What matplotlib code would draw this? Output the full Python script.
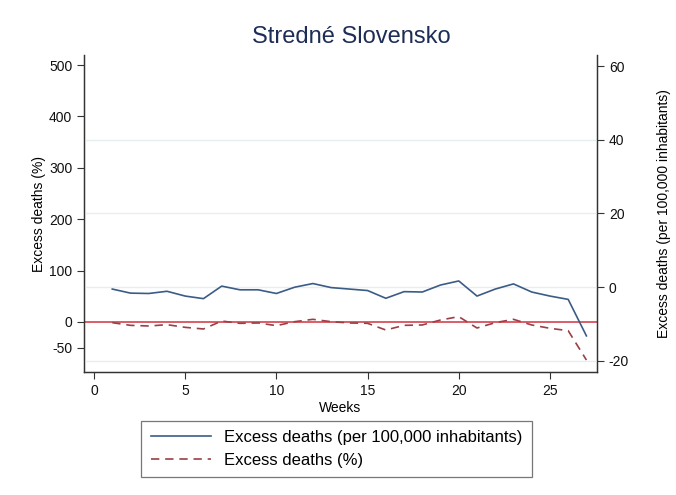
import matplotlib
matplotlib.use("Agg")
import matplotlib.pyplot as plt
from matplotlib.lines import Line2D

plt.rcParams['font.family'] = ['Liberation Sans', 'DejaVu Sans']
plt.rcParams['axes.unicode_minus'] = False

weeks = list(range(1, 28))
per100k = [-0.5, -1.6, -1.7, -1.1, -2.4, -3.1, 0.3, -0.7, -0.7, -1.7, 0.0, 1.0, -0.1, -0.5,
           -0.9, -3.0, -1.2, -1.3, 0.6, 1.7, -2.4, -0.5, 0.9, -1.3, -2.4, -3.3, -13.2]
pct = [-1.3, -6.5, -7.8, -5.2, -10.4, -13.6, 1.9, -2.6, -1.9, -7.1, 0.6, 5.2, 0.6, -1.9,
       -2.6, -15.6, -6.5, -5.8, 3.9, 10.4, -11.7, -1.3, 5.2, -5.8, -12.3, -16.9, -74.0]
x_ticks = [0, 5, 10, 15, 20, 25]
left_ticks = [-50, 0, 100, 200, 300, 400, 500]
right_ticks = [-20, 0, 20, 40, 60]
grid_vals = [-20, 0, 20, 40]

title = "Stredné Slovensko"
xlabel = "Weeks"
ylabel_left = "Excess deaths (%)"
ylabel_right = "Excess deaths (per 100,000 inhabitants)"
lab_blue = "Excess deaths (per 100,000 inhabitants)"
lab_red = "Excess deaths (%)"

W, H = 676, 495
fig = plt.figure(figsize=(W / 100, H / 100), dpi=100)
L, R, T, B = 84, 597, 55, 372
ax = fig.add_axes([L / W, 1 - B / H, (R - L) / W, (B - T) / H])
ax2 = ax.twinx()

blue = '#3b5c86'
maroon = '#9a3f45'
red0 = '#d9505c'
grid_c = '#e6eff0'

ax.set_xlim(-0.55, 27.58)
ax.set_ylim(-97.3, 519.5)
ax2.set_ylim(-23.0, 63.0)

for g in grid_vals:
    ax2.axhline(g, color=grid_c, lw=1.0, zorder=0)
ax.axhline(0, color=red0, lw=1.3, zorder=1)
ax.plot(weeks, pct, color=maroon, lw=1.2, ls=(0, (5, 3.5)), zorder=3)
ax2.plot(weeks, per100k, color=blue, lw=1.2, zorder=3)

ax.set_xticks(x_ticks)
ax.set_yticks(left_ticks)
ax2.set_yticks(right_ticks)
for a in (ax, ax2):
    a.spines['top'].set_visible(False)
    for s in a.spines.values():
        s.set_color('#333333')
        s.set_linewidth(0.9)
    a.tick_params(labelsize=10, length=5, width=0.8, color='#333333', labelcolor='#111111')

ax.set_xlabel(xlabel, fontsize=10, labelpad=2)
ax.set_ylabel(ylabel_left, fontsize=10, labelpad=2)
ax2.set_ylabel(ylabel_right, fontsize=10, labelpad=20)

fig.text(351 / W, 1 - 37 / H, title, ha='center', va='center', fontsize=17, color='#1e2d57')

handles = [Line2D([], [], color=blue, lw=1.2),
           Line2D([], [], color=maroon, lw=1.2, ls=(0, (5, 3.5)))]
leg = fig.legend(handles, [lab_blue, lab_red], loc='center',
                 bbox_to_anchor=(336.5 / W, 1 - 449 / H), fontsize=12,
                 frameon=True, fancybox=False, handlelength=3.6, handletextpad=0.8,
                 borderpad=0.55, labelspacing=0.45)
leg.get_frame().set_edgecolor('#555555')
leg.get_frame().set_linewidth(0.9)

fig.savefig('out.png', dpi=100, facecolor='white')
